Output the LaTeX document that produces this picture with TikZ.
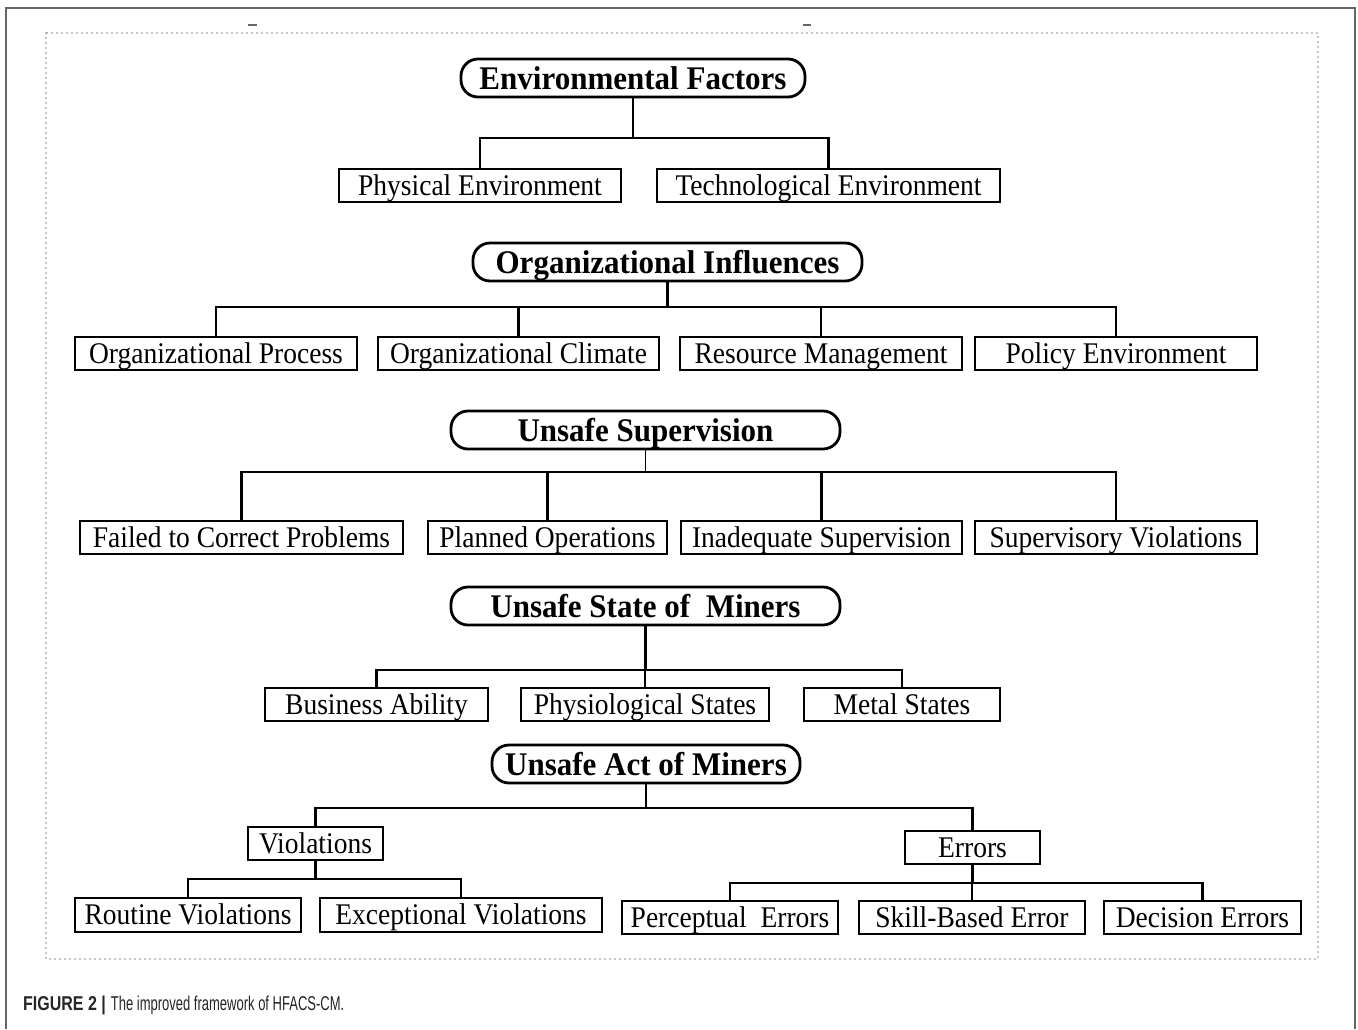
\documentclass[tikz,border=0pt]{standalone}
\usepackage{graphicx}
\usepackage{fontspec}
\setmainfont{Liberation Serif}
\newfontfamily\boxfont[FakeStretch=0.917]{Liberation Serif}
\newfontfamily\headfont[FakeStretch=0.94]{Liberation Serif}
\newfontfamily\capfont{Liberation Sans}
\begin{document}
\begin{tikzpicture}[x=1pt,y=-1pt,
  box/.style={draw=black, line width=2.8pt, minimum height=33pt, inner sep=0pt,
    font=\boxfont\fontsize{30}{32}\selectfont, text height=19pt, text depth=0pt},
  head/.style={draw=black, line width=2.8pt, rounded corners=17pt, minimum height=38pt, inner sep=0pt,
    font=\headfont\fontsize{33}{36}\selectfont\bfseries, text height=22pt, text depth=0pt},
  conn/.style={line width=2.3pt},
  frameline/.style={draw=black!60, line width=1.5pt},
  dotline/.style={draw=black!45, line width=1.6pt, line cap=round, dash pattern=on 0pt off 5pt}]
\useasboundingbox (0,0) rectangle (1358,1029);
\fill[white] (0,0) rectangle (1358,1029);
% outer frame and dotted border
\draw[frameline] (6,1029) -- (6,8) -- (1355,8) -- (1355,1029);
\draw[dotline] (46,33) rectangle (1318,959);
\draw[black!60, line width=1.2pt] (248,25) -- (257,25);
\draw[black!60, line width=1.2pt] (803,25) -- (811,25);

% Environmental Factors
\node[head, minimum width=344pt] (ef) at (633,78) {Environmental Factors};
\node[box, minimum width=282pt] (pe) at (480,185.5) {Physical Environment};
\node[box, minimum width=343pt] (te) at (828.5,185.5) {Technological Environment};
\coordinate (j1) at (633,138);
\draw[conn] (ef.south) -- (j1);
\draw[conn] (pe.north) |- (j1) -| (te.north);

% Organizational Influences
\node[head, minimum width=389pt] (oi) at (667.5,262) {Organizational Influences};
\node[box, minimum width=282pt] (op) at (216,353.5) {Organizational Process};
\node[box, minimum width=281pt] (oc) at (518.5,353.5) {Organizational Climate};
\node[box, minimum width=282pt] (rm) at (821,353.5) {Resource Management};
\node[box, minimum width=282pt] (pen) at (1116,353.5) {Policy Environment};
\coordinate (j2) at (667.5,307);
\draw[conn] (oi.south) -- (j2);
\draw[conn] (op.north) |- (j2) -| (pen.north);
\draw[conn] (oc.north) -- (oc.north |- j2);
\draw[conn] (rm.north) -- (rm.north |- j2);

% Unsafe Supervision
\node[head, minimum width=389pt] (us) at (645.5,430) {Unsafe Supervision};
\node[box, minimum width=323pt] (fcp) at (241.5,537.5) {Failed to Correct Problems};
\node[box, minimum width=239pt] (po) at (547.5,537.5) {Planned Operations};
\node[box, minimum width=281pt] (is) at (821.5,537.5) {Inadequate Supervision};
\node[box, minimum width=282pt] (sv) at (1116,537.5) {Supervisory Violations};
\coordinate (j3) at (645.5,472);
\draw[line width=1.5pt] (us.south) -- (j3);
\draw[conn] (fcp.north) |- (j3) -| (sv.north);
\draw[conn] (po.north) -- (po.north |- j3);
\draw[conn] (is.north) -- (is.north |- j3);

% Unsafe State of Miners
\node[head, minimum width=389pt] (usm) at (645.5,606) {Unsafe State of\ \ Miners};
\node[box, minimum width=223pt] (ba) at (376.5,704.5) {Business Ability};
\node[box, minimum width=248pt] (ps) at (645,704.5) {Physiological States};
\node[box, minimum width=196pt] (ms) at (902,704.5) {Metal States};
\coordinate (j4) at (645.5,670);
\draw[conn] (usm.south) -- (j4);
\draw[conn] (ba.north) |- (j4) -| (ms.north);
\draw[conn] (ps.north) -- (ps.north |- j4);

% Unsafe Act of Miners
\node[head, minimum width=308pt] (uam) at (646,764) {Unsafe Act of Miners};
\node[box, minimum width=135pt] (vio) at (315.5,843.5) {Violations};
\node[box, minimum width=135pt] (err) at (972.5,847.5) {Errors};
\coordinate (j5) at (646,808);
\draw[conn] (uam.south) -- (j5);
\draw[conn] (vio.north) |- (j5) -| (err.north);

\node[box, minimum width=226pt, minimum height=34pt] (rv) at (188,915) {Routine Violations};
\node[box, minimum width=282pt, minimum height=34pt] (ev) at (461,915) {Exceptional Violations};
\coordinate (j6) at (315.5,879);
\draw[conn] (vio.south) -- (j6);
\draw[conn] (rv.north) |- (j6) -| (ev.north);

\node[box, minimum width=216pt] (per) at (730,917.5) {Perceptual\ \ Errors};
\node[box, minimum width=226pt] (sbe) at (972,917.5) {Skill-Based Error};
\node[box, minimum width=197pt] (de) at (1202.5,917.5) {Decision Errors};
\coordinate (j7) at (972.5,883);
\draw[conn] (err.south) -- (j7);
\draw[conn] (per.north) |- (j7) -| (de.north);
\draw[conn] (sbe.north) -- (sbe.north |- j7);

% caption
\node[anchor=west, inner sep=0pt, text=black!85] (cap) at (23,1005)
  {\capfont\fontsize{20}{24}\selectfont\scalebox{0.8}[1]{\bfseries FIGURE 2 |}\hspace{5pt}\scalebox{0.65}[1]{The improved framework of HFACS-CM.}};
\end{tikzpicture}
\end{document}
